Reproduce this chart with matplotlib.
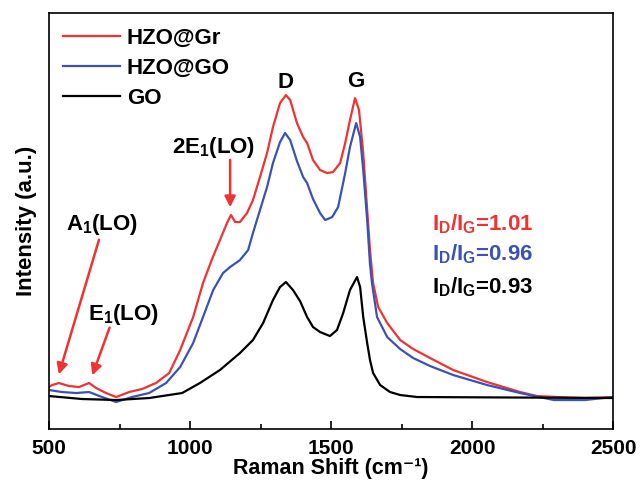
import matplotlib
matplotlib.use("Agg")
import matplotlib.pyplot as plt
from matplotlib.ticker import MultipleLocator

plt.rcParams['font.family'] = ['Liberation Sans', 'DejaVu Sans']
plt.rcParams['font.weight'] = 'bold'
plt.rcParams['mathtext.fontset'] = 'custom'
plt.rcParams['mathtext.rm'] = 'Liberation Sans:bold'
plt.rcParams['mathtext.bf'] = 'Liberation Sans:bold'
plt.rcParams['mathtext.it'] = 'Liberation Sans:bold'

# Data (intensity in arbitrary units)
gr_x = [500, 511, 535, 571, 606, 642, 667, 702, 738, 784, 830, 879, 926, 965, 1011, 1046,
        1078, 1106, 1131, 1145, 1160, 1177, 1202, 1223, 1248, 1273, 1294, 1319, 1340, 1355,
        1379, 1401, 1415, 1436, 1461, 1486, 1507, 1532, 1550, 1567, 1585, 1599, 1614, 1628,
        1638, 1649, 1667, 1699, 1745, 1791, 1851, 1933, 2053, 2170, 2230, 2300, 2400, 2500]
gr_y = [42, 44, 46, 43, 42, 46, 41, 36, 32, 37, 40, 46, 56, 79, 112, 146,
        170, 189, 206, 214, 207, 207, 216, 229, 252, 276, 302, 326, 334, 329,
        306, 292, 286, 269, 259, 256, 257, 266, 286, 309, 331, 319, 276, 219,
        179, 146, 122, 106, 89, 80, 71, 59, 47, 37, 33, 32, 31, 32]

go_hzo_x = [500, 546, 596, 642, 688, 738, 794, 855, 915, 965, 1011, 1046, 1082, 1117, 1142,
            1177, 1206, 1223, 1248, 1273, 1294, 1319, 1337, 1355, 1379, 1401, 1415, 1436,
            1461, 1479, 1504, 1525, 1550, 1567, 1589, 1603, 1614, 1628, 1638, 1645, 1663,
            1699, 1745, 1791, 1851, 1933, 2053, 2170, 2290, 2400, 2500]
go_hzo_y = [39, 37, 36, 37, 32, 27, 32, 36, 46, 62, 86, 112, 139, 156, 162,
            169, 179, 196, 219, 242, 266, 287, 296, 289, 268, 252, 246, 230,
            216, 209, 212, 222, 256, 282, 306, 292, 259, 209, 165, 146, 112,
            92, 80, 71, 63, 54, 44, 36, 29, 29, 32]

go_x = [500, 617, 738, 855, 972, 1035, 1106, 1177, 1223, 1259, 1294, 1319, 1340, 1365, 1390,
        1415, 1436, 1461, 1496, 1521, 1543, 1567, 1592, 1603, 1614, 1628, 1638, 1649, 1674,
        1709, 1745, 1805, 2500]
go_y = [33, 30, 29, 31, 36, 46, 59, 76, 89, 106, 129, 142, 147, 139, 128,
        112, 102, 97, 93, 99, 116, 139, 152, 142, 112, 86, 69, 56, 44,
        37, 34, 32, 31]

labels = ['HZO@Gr', 'HZO@GO', 'GO']
ratios = ['1.01', '0.96', '0.93']
RED = '#f03232'
BLUE = '#3a52b4'
BLACK = '#000000'

fig = plt.figure(figsize=(6.4, 4.84), dpi=100)
ax = fig.add_axes([0.0766, 0.1136, 0.8814, 0.8594])

ax.plot(gr_x, gr_y, color=RED, lw=1.6, label=labels[0])
ax.plot(go_hzo_x, go_hzo_y, color=BLUE, lw=1.6, label=labels[1])
ax.plot(go_x, go_y, color=BLACK, lw=1.6, label=labels[2])

ax.set_xlim(500, 2500)
ax.set_ylim(0, 416)
ax.set_yticks([])
ax.xaxis.set_major_locator(MultipleLocator(500))
ax.xaxis.set_minor_locator(MultipleLocator(250))
ax.tick_params(axis='x', which='major', direction='in', length=6, width=1.2, labelsize=15, pad=7)
ax.tick_params(axis='x', which='minor', direction='in', length=3.5, width=1.2)
for s in ax.spines.values():
    s.set_linewidth(1.2)

ax.set_xlabel('Raman Shift (cm\u207b\u00b9)', fontsize=15.5, fontweight='bold', labelpad=0)
ax.set_ylabel('Intensity (a.u.)', fontsize=16, fontweight='bold', labelpad=9)

leg = ax.legend(loc='upper left', frameon=False, fontsize=16, handlelength=2.55,
                handletextpad=0.3, labelspacing=0.42, borderaxespad=0.25)

# Peak labels
ax.text(1340, 341, 'D', fontsize=16, ha='center', va='baseline')
ax.text(1588, 342, 'G', fontsize=16, ha='center', va='baseline')

# Mode annotations
ax.annotate('', xy=(1142, 219), xytext=(1142, 272),
            arrowprops=dict(arrowstyle='-|>', color=RED, lw=1.8, mutation_scale=16))
ax.text(1082, 276, '2E$_1$(LO)', fontsize=16, ha='center', va='baseline')
ax.annotate('', xy=(532, 52), xytext=(680, 192),
            arrowprops=dict(arrowstyle='-|>', color=RED, lw=1.8, mutation_scale=16))
ax.text(687, 199, 'A$_1$(LO)', fontsize=16, ha='center', va='baseline')
ax.annotate('', xy=(650, 51), xytext=(718, 104),
            arrowprops=dict(arrowstyle='-|>', color=RED, lw=1.8, mutation_scale=16))
ax.text(763, 109, 'E$_1$(LO)', fontsize=16, ha='center', va='baseline')

# Ratio labels
for r, c, yy in zip(ratios, [RED, BLUE, BLACK], [199, 169, 136]):
    ax.text(1857, yy, r'I$_D$/I$_G$=' + r, fontsize=16, color=c, ha='left', va='baseline')

fig.savefig('out.png', dpi=100)
